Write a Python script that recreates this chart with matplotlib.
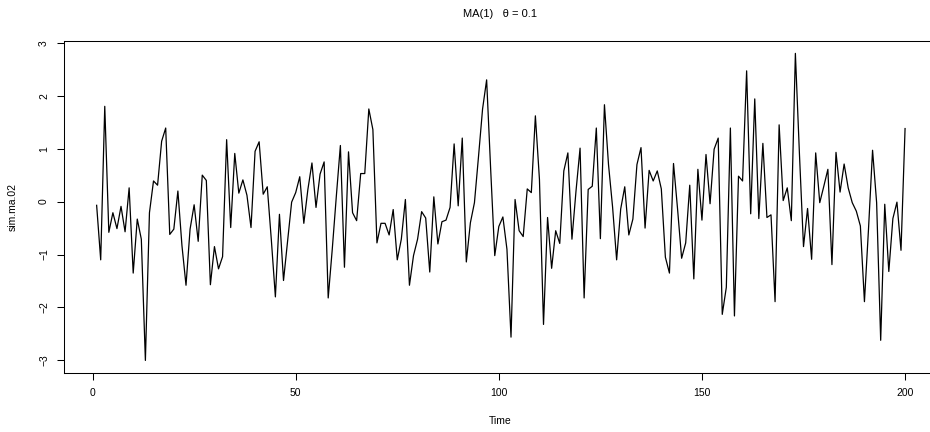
import numpy as np
import matplotlib
matplotlib.use("Agg")
import matplotlib.pyplot as plt

plt.rcParams['font.family'] = ['Liberation Sans', 'DejaVu Sans']

# Series values (t = 1..200)
values = [
    -0.07, -1.10, 1.80, -0.58, -0.21, -0.51, -0.09, -0.57, 0.26, -1.35,
    -0.33, -0.71, -3.00, -0.21, 0.39, 0.31, 1.14, 1.39, -0.62, -0.52,
    0.20, -0.83, -1.58, -0.52, -0.06, -0.75, 0.50, 0.40, -1.57, -0.85,
    -1.27, -1.04, 1.17, -0.49, 0.91, 0.16, 0.41, 0.12, -0.49, 0.95,
    1.13, 0.14, 0.28, -0.72, -1.80, -0.24, -1.49, -0.74, -0.01, 0.17,
    0.47, -0.41, 0.23, 0.73, -0.11, 0.52, 0.75, -1.82, -0.90, 0.10,
    1.06, -1.24, 0.94, -0.21, -0.36, 0.53, 0.53, 1.75, 1.36, -0.78,
    -0.41, -0.41, -0.63, -0.15, -1.10, -0.71, 0.04, -1.58, -1.02, -0.71,
    -0.19, -0.31, -1.33, 0.09, -0.80, -0.38, -0.35, -0.11, 1.09, -0.08,
    1.20, -1.14, -0.40, -0.02, 0.85, 1.75, 2.30, 0.60, -1.02, -0.47,
    -0.29, -0.90, -2.56, 0.04, -0.55, -0.66, 0.24, 0.17, 1.62, 0.42,
    -2.32, -0.30, -1.26, -0.55, -0.79, 0.58, 0.92, -0.71, 0.20, 1.01,
    -1.82, 0.23, 0.29, 1.39, -0.70, 1.83, 0.70, -0.10, -1.10, -0.14,
    0.28, -0.63, -0.33, 0.70, 1.02, -0.50, 0.59, 0.39, 0.58, 0.24,
    -1.05, -1.35, 0.72, -0.14, -1.07, -0.78, 0.31, -1.46, 0.61, -0.35,
    0.89, -0.04, 0.99, 1.20, -2.13, -1.62, 1.39, -2.16, 0.48, 0.39,
    2.47, -0.23, 1.94, -0.32, 1.10, -0.30, -0.25, -1.89, 1.45, 0.02,
    0.26, -0.36, 2.80, 0.90, -0.85, -0.13, -1.09, 0.92, -0.02, 0.29,
    0.61, -1.19, 0.93, 0.18, 0.71, 0.26, -0.02, -0.18, -0.46, -1.89,
    -0.52, 0.97, -0.02, -2.62, -0.05, -1.32, -0.32, -0.01, -0.92, 1.38,
]
time = np.arange(1, len(values) + 1)

x_ticks = [0, 50, 100, 150, 200]
y_ticks = [-3, -2, -1, 0, 1, 2, 3]
title_text = "MA(1)   \u03b8 = 0.1"
x_label = "Time"
y_label = "sim.ma.02"

W, H = 930, 432
fig = plt.figure(figsize=(W / 100, H / 100), dpi=100)

left_px, right_px, top_px, bottom_px = 64.3, 937.4, 41.1, 372.7
ax = fig.add_axes([left_px / W, (H - bottom_px) / H,
                   (right_px - left_px) / W, (bottom_px - top_px) / H])

ax.plot(time, values, color='black', linewidth=0.9)

xmin, xmax = time.min(), time.max()
ymin, ymax = min(values), max(values)
dx, dy = 0.04 * (xmax - xmin), 0.04 * (ymax - ymin)
ax.set_xlim(xmin - dx, xmax + dx)
ax.set_ylim(ymin - dy, ymax + dy)

ax.set_xticks(x_ticks)
ax.set_xticklabels([str(v) for v in x_ticks])
ax.set_yticks(y_ticks)
ax.set_yticklabels([str(v).replace('-', '\u2212') for v in y_ticks],
                   rotation=90, va='center')

ax.tick_params(direction='out', length=5, width=0.75, labelsize=7.5,
               colors='black', pad=6)
for s in ax.spines.values():
    s.set_linewidth(0.75)
    s.set_color('black')

fig.text(500 / W, 1 - 14 / H, title_text, ha='center', va='center', fontsize=8)
fig.text(500 / W, 1 - 421 / H, x_label, ha='center', va='center', fontsize=7.5)
fig.text(13 / W, 1 - 207 / H, y_label, ha='center', va='center', fontsize=7.5,
         rotation=90)

fig.savefig("out.png", dpi=100)
